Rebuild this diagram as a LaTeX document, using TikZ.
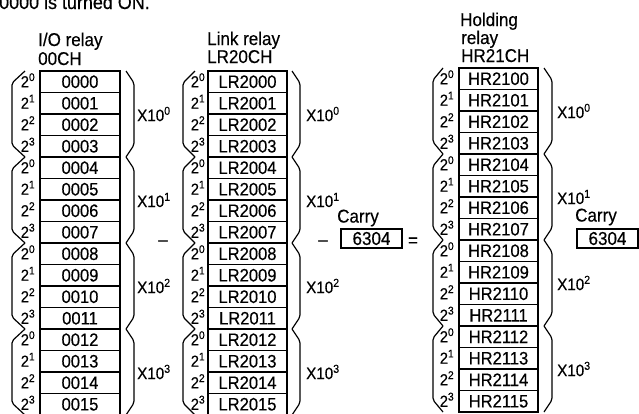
\documentclass[tikz,border=0pt]{standalone}
\usepackage{fontspec}
\setmainfont{Liberation Sans}[FakeStretch=0.92,FakeBold=0.4]
\begin{document}
\begin{tikzpicture}[x=1pt,y=-1pt,
  cellbox/.style={draw,line width=1.3pt,inner sep=0pt,minimum height=21.5pt,font=\fontsize{18}{19}\selectfont},
  bitlbl/.style={inner sep=0pt,font=\fontsize{16}{17}\selectfont},
  declbl/.style={inner sep=0pt,anchor=west,font=\fontsize{16.5}{17}\selectfont},
  hdr/.style={inner sep=0pt,anchor=base west,font=\fontsize{18.5}{19}\selectfont},
  brk/.style={line width=1.2pt,rounded corners=2pt},
  opsym/.style={inner sep=0pt,font=\fontsize{18.5}{19}\selectfont},
  carrybox/.style={draw,line width=1.3pt,inner sep=0pt,minimum width=61pt,minimum height=19pt,font=\fontsize{18.5}{19}\selectfont}
]
\useasboundingbox (0,0) rectangle (639,413);
\clip (0,0) rectangle (639,413);

\node[hdr,font=\fontsize{19.5}{20}\selectfont] (toptext) at (-1,9) {0000 is turned ON.};

\foreach \nm/\xl/\w/\yt/\pre/\bx/\bl/\tl/\brr/\tr/\dx in {io/40/80/71/00/28/12/25/134/126/137, lr/208/79/71/LR20/198/183/195/300/292/306, hr/459/79/68/HR21/447/433/443/552/544/557} {
  \foreach \i in {0,...,15} {
    \pgfmathsetmacro{\yc}{\yt+21.5*\i+10.75}
    \pgfmathtruncatemacro{\k}{mod(\i,4)}
    \node[cellbox,minimum width=\w pt] (\nm\i) at (\xl+\w/2,\yc) {\pre\ifnum\i<10 0\fi\i};
    \node[bitlbl] (\nm b\i) at (\bx,\yc-1.5) {2\textsuperscript{\k}};
  }
  \foreach \g in {0,...,3} {
    \pgfmathsetmacro{\ya}{\yt+86*\g}
    \pgfmathsetmacro{\yb}{\ya+86}
    \draw[brk] (\tl,\ya) -- (\bl,\ya+12) -- (\bl,\yb-12) -- (\tl,\yb);
    \draw[brk] (\tr,\ya) -- (\brr,\ya+12) -- (\brr,\yb-12) -- (\tr,\yb);
    \node[declbl] (\nm d\g) at (\dx,\ya+43) {X10\textsuperscript{\g}};
  }
}

\node[hdr] (iohdra) at (38,46) {I/O relay};
\node[hdr] (iohdrb) at (38,65) {00CH};
\node[hdr] (lrhdra) at (207,45) {Link relay};
\node[hdr] (lrhdrb) at (207,63) {LR20CH};
\node[hdr] (hrhdra) at (460,26) {Holding};
\node[hdr] (hrhdrb) at (461,44) {relay};
\node[hdr] (hrhdrc) at (461,62) {HR21CH};

\node[opsym] (minusa) at (163,243) {–};
\node[opsym] (minusb) at (323,243) {–};
\node[opsym] (eqsign) at (413,242) {=};
\node[opsym] (carryalbl) at (358,218) {Carry};
\node[carrybox] (carrya) at (371.5,238.5) {6304};
\node[opsym] (carryblbl) at (596,217) {Carry};
\node[carrybox] (carryb) at (607.5,238.5) {6304};
\end{tikzpicture}
\end{document}
